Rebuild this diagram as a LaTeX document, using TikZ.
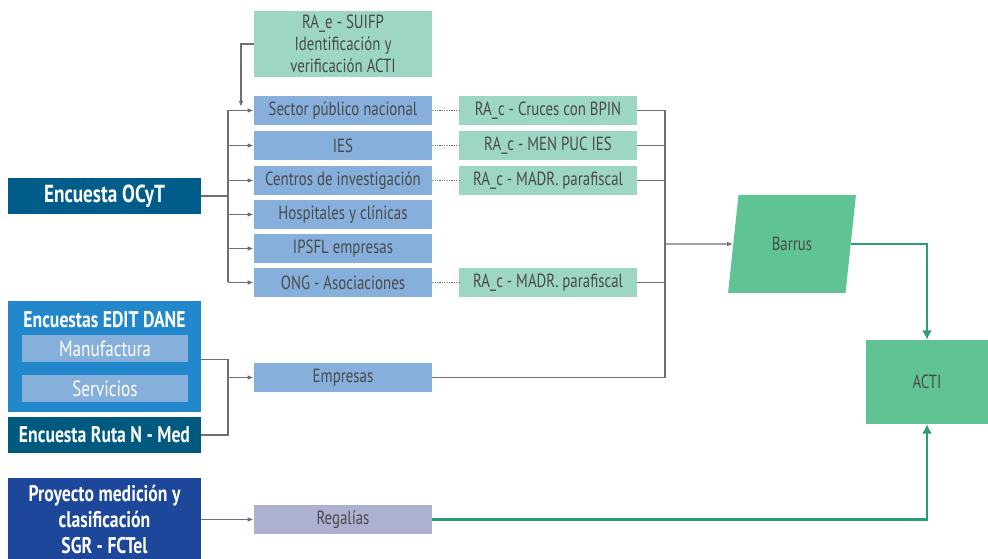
\documentclass[tikz,border=0pt]{standalone}
\usepackage{fontspec}
\setmainfont{PT Sans}[FakeStretch=0.78]
\usetikzlibrary{arrows.meta,shapes.geometric}
\definecolor{cajaazul}{HTML}{86AFDC}
\definecolor{menta}{HTML}{9DD6C5}
\definecolor{ocyt}{HTML}{005C88}
\definecolor{dane}{HTML}{2288CB}
\definecolor{rutan}{HTML}{005A80}
\definecolor{sgr}{HTML}{1C479B}
\definecolor{regalia}{HTML}{ADB0CE}
\definecolor{verde}{HTML}{60C394}
\definecolor{verdeosc}{HTML}{2A9D76}
\definecolor{linea}{HTML}{707070}
\definecolor{texto}{HTML}{4A4A4A}
\tikzset{
	caja/.style={fill=cajaazul,text=texto,inner sep=0pt,minimum width=133.5pt,minimum height=21.75pt,font=\fontsize{14.3}{16.5}\selectfont},
	cajamenta/.style={caja,fill=menta},
	fuente/.style={text=white,inner sep=0pt,minimum width=144.75pt,minimum height=27pt,font=\fontsize{17}{19.5}\selectfont\bfseries},
	subcaja/.style={fill=cajaazul,text=white,inner sep=0pt,minimum width=124.5pt,minimum height=20.25pt,font=\fontsize{16.5}{18}\selectfont},
	gris/.style={draw=linea,line width=0.9pt},
	flecha/.style={gris,-{Latex[length=4.5pt,width=3.5pt]}},
	punteada/.style={draw=linea,line width=0.8pt,densely dotted},
	verdeflecha/.style={draw=verdeosc,line width=2.2pt,-{Latex[length=7pt,width=7.5pt]}}
}
\begin{document}
\begin{tikzpicture}[x=0.75pt,y=-0.75pt]
		\useasboundingbox (0,0) rectangle (988,559);
		\node[cajamenta,minimum height=49.5pt,align=center] (rae) at (343,44) {RA\_e - SUIFP\\Identificación y\\verificación ACTI};
		\node[caja] (spn) at (343,110.5) {Sector público nacional};
		\node[caja] (ies) at (343,145.5) {IES};
		\node[caja] (cin) at (343,180.5) {Centros de investigación};
		\node[caja] (hos) at (343,214.5) {Hospitales y clínicas};
		\node[caja] (ips) at (343,248.5) {IPSFL empresas};
		\node[caja] (ong) at (343,282.5) {ONG - Asociaciones};
		\node[caja] (emp) at (343,377.5) {Empresas};
		\node[caja,fill=regalia] (reg) at (343,519.5) {Regalías};
		\node[cajamenta] (rac1) at (548,110.5) {RA\_c - Cruces con BPIN};
		\node[cajamenta] (rac2) at (548,145.5) {RA\_c - MEN PUC IES};
		\node[cajamenta] (rac3) at (548,180.5) {RA\_c - MADR. parafiscal};
		\node[cajamenta] (rac4) at (548,282.5) {RA\_c - MADR. parafiscal};
		\node[fuente,fill=ocyt,font=\fontsize{18.5}{20}\selectfont\bfseries] (ocyt) at (104.5,196) {Encuesta OCyT};
		\node[fuente,fill=dane,minimum height=83.25pt] (dane) at (104.5,356.5) {};
		\node[text=white,font=\fontsize{17}{19}\selectfont\bfseries] (danet) at (104.5,320) {Encuestas EDIT DANE};
		\node[subcaja] (manu) at (105,348.5) {Manufactura};
		\node[subcaja] (serv) at (105,388.5) {Servicios};
		\node[fuente,fill=rutan] (ruta) at (104.5,435) {Encuesta Ruta N - Med};
		\node[fuente,fill=sgr,minimum height=62.25pt,align=center] (sgr) at (104.5,519.5) {Proyecto medición y\\clasificación\\SGR - FCTel};
		\node[trapezium,trapezium left angle=78,trapezium right angle=102,trapezium stretches=true,fill=verde,text=texto,minimum width=96pt,minimum height=73.5pt,font=\fontsize{14.3}{16.5}\selectfont] (bar) at (792,244) {Barrus};
		\node[fill=verde,text=texto,minimum width=91.5pt,minimum height=63pt,font=\fontsize{14.3}{16.5}\selectfont] (acti) at (927,382) {ACTI};
		\coordinate (bA) at (228,196);
		\coordinate (ctl) at (241,107);
		\coordinate (bB) at (665,244);
		\coordinate (bC) at (228,377.5);
		\draw[gris] (ocyt.east) -- (bA);
		\draw[gris] (bA |- spn) -- (bA |- ong);
		\foreach \n in {spn,ies,cin,hos,ips,ong}
			\draw[flecha] (bA |- \n.west) -- (\n.west);
		\draw[flecha] (rae.west) -| (ctl);
		\foreach \a/\b in {spn/rac1,ies/rac2,cin/rac3,ong/rac4}
			\draw[punteada] (\a) -- (\b);
		\foreach \n in {rac1,rac2,rac3,rac4,emp}
			\draw[gris] (\n.east) -| (bB);
		\draw[flecha] (bB) -- (bar);
		\draw[gris] ([yshift=-2pt]dane.east) -| (bC);
		\draw[gris] (ruta.east) -| (bC);
		\draw[flecha] (bC) -- (emp);
		\draw[flecha] (sgr.east |- reg.west) -- (reg.west);
		\draw[verdeflecha] (bar.east) -| (acti.north);
		\draw[verdeflecha] (reg.east) -| (acti.south);
\end{tikzpicture}
\end{document}
